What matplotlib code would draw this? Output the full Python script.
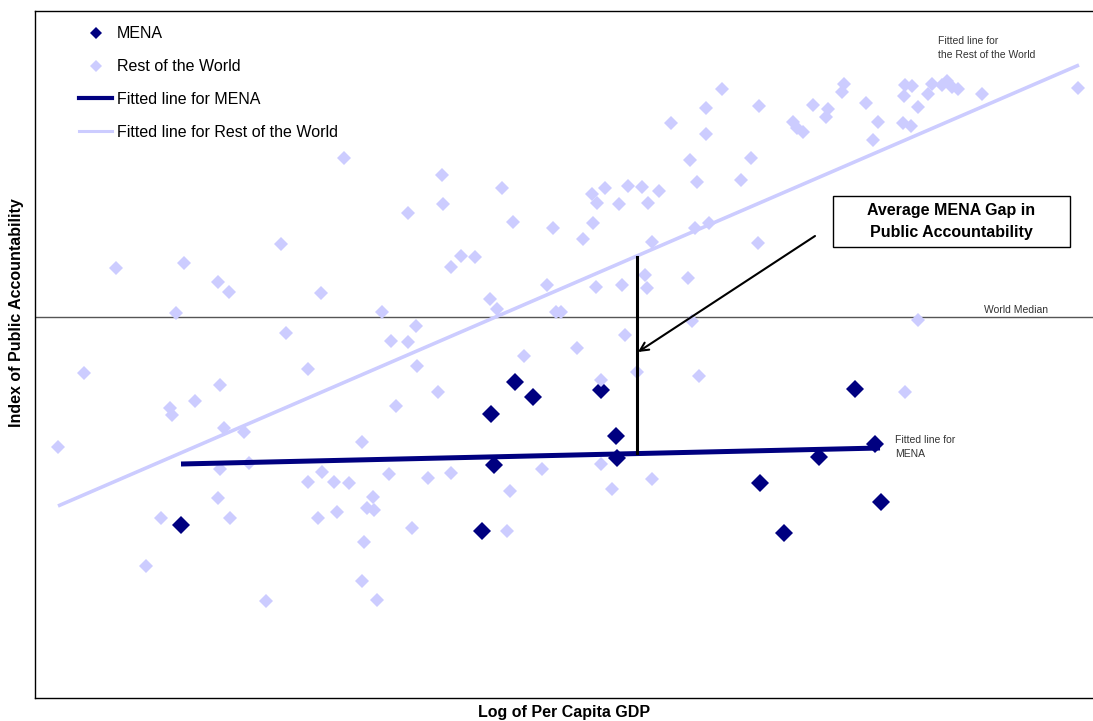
import matplotlib
matplotlib.use("Agg")
import matplotlib.pyplot as plt
from matplotlib.lines import Line2D
from matplotlib.patches import Rectangle

plt.rcParams['font.family'] = ['Liberation Sans', 'DejaVu Sans']

# ---- data (x: log per capita GDP, arbitrary units; y: index, world median = 0) ----
mena_x = [146, 456, 480, 498, 566, 581, 582, 459, 447, 725, 749, 784, 820, 840, 846]
mena_y = [-208, -97, -65, -80, -73, -119, -141, -148, -214, -166, -216, -140, -72, -127, -185]

row_x = [23, 49, 81, 111, 126, 135, 137, 141, 149, 160, 183, 185, 185, 183, 189, 194, 195,
         209, 214, 231, 246, 251, 273, 273, 283, 286, 287, 299, 302, 309, 314, 327, 327,
         329, 332, 338, 339, 342, 347, 356, 361, 373, 373, 377, 381, 382, 354, 393, 403,
         407, 408, 416, 416, 426, 440, 455, 462, 467, 472, 475, 478, 489, 507, 512, 518,
         521, 526, 542, 548, 557, 558, 561, 562, 566, 566, 570, 577, 584, 587, 590, 593,
         602, 607, 610, 612, 613, 617, 617, 624, 636, 653, 655, 657, 660, 662, 664, 671,
         671, 674, 687, 706, 716, 723, 724, 758, 762, 768, 778, 791, 793, 807, 809, 831,
         838, 843, 868, 869, 870, 870, 876, 877, 883, 883, 893, 897, 907, 912, 917, 923,
         947, 1043]
row_y = [-130, -56, 49, -249, -201, -91, -98, 4, 54, -84, 35, -68, -152, -181, -111, 25, -201,
         -115, -146, -284, 73, -16, -52, -165, -201, 24, -155, -165, -195, 159, -166, -125, -264,
         -225, -191, -180, -193, -283, 5, -24, -89, 104, -25, -211, -9, -49, -157, -161, -75,
         142, 113, 50, -156, 61, 60, 18, 8, 129, -214, -174, 95, -39, -152, 32, 89,
         5, 5, -31, 78, 123, 94, 30, 114, -63, -147, 129, -172, 113, 32, -18, 131,
         -55, 130, 42, 29, 114, 75, -162, 126, 194, 39, 157, -4, 89, 135, -59, 209,
         183, 94, 228, 137, 159, 74, 211, 195, 189, 185, 212, 200, 208, 225, 233, 214,
         177, 195, 194, 221, 232, -75, 191, 231, 210, -3, 223, 233, 232, 236, 230, 228,
         223, 229]

mena_fit_x = [146, 845]
mena_fit_y = [-147, -131]
row_fit_x = [23, 1044]
row_fit_y = [-189, 252]

gap_x = 602
gap_y = [-136, 60]
world_median = 0

NAVY = '#000080'
LAV = '#CCCCFF'

fig = plt.figure(figsize=(10.93, 7.21), dpi=100)
ax = fig.add_axes([35/1093, 23/721, 1058/1093, 687/721])
ax.set_xlim(0, 1058)
ax.set_ylim(-381, 306)
ax.set_xticks([])
ax.set_yticks([])
for s in ['top', 'left', 'bottom']:
    ax.spines[s].set_color('black')
    ax.spines[s].set_linewidth(1.0)
ax.spines['right'].set_visible(False)

ax.axhline(world_median, color='#555555', lw=1.0, zorder=1)

ax.plot(mena_x, mena_y, ls='none', marker='D', ms=9.5, mew=0, color=NAVY, zorder=2)
ax.plot(row_x, row_y, ls='none', marker='D', ms=7.5, mew=0, color=LAV, zorder=3)
ax.plot(row_fit_x, row_fit_y, color=LAV, lw=2.6, zorder=3, solid_capstyle='butt')
ax.plot(mena_fit_x, mena_fit_y, color=NAVY, lw=3.6, zorder=4, solid_capstyle='butt')

ax.plot([gap_x, gap_x], gap_y, color='black', lw=2.2, zorder=5)
ax.annotate('', xy=(603, -35), xytext=(780, 81),
            arrowprops=dict(arrowstyle='->,head_length=0.6,head_width=0.3', lw=1.5,
                            color='black', shrinkA=0, shrinkB=0), zorder=6)

ax.add_patch(Rectangle((798, 70), 237, 51, fc='white', ec='black', lw=1.0, zorder=6))
ax.text(916.5, 95.5, 'Average MENA Gap in\nPublic Accountability', ha='center', va='center',
        fontsize=11.5, fontweight='bold', linespacing=1.52, zorder=7)

ax.text(949, 2, 'World Median', fontsize=7.5, color='#333333', ha='left', va='bottom')
ax.text(903, 269, 'Fitted line for\nthe Rest of the World', fontsize=7.5, color='#333333',
        ha='left', va='center', linespacing=1.6)
ax.text(860, -130, 'Fitted line for\nMENA', fontsize=7.5, color='#333333',
        ha='left', va='center', linespacing=1.6)

handles = [
    Line2D([], [], ls='none', marker='D', color=NAVY, ms=6, mew=0),
    Line2D([], [], ls='none', marker='D', color=LAV, ms=6, mew=0),
    Line2D([], [], color=NAVY, lw=3.0),
    Line2D([], [], color=LAV, lw=2.2),
]
labels = ['MENA', 'Rest of the World', 'Fitted line for MENA', 'Fitted line for Rest of the World']
fig.legend(handles, labels, loc='upper left', bbox_to_anchor=(79/1093, 1 - 26.5/721),
           frameon=False, fontsize=11.5, handlelength=2.07, handletextpad=0.31,
           labelspacing=1.11, borderpad=0, borderaxespad=0)

fig.text(564/1093, 1 - 712/721, 'Log of Per Capita GDP', ha='center', va='center',
         fontsize=11.5, fontweight='bold')
fig.text(17/1093, 1 - 313/721, 'Index of Public Accountability', ha='center', va='center',
         rotation=90, fontsize=11.5, fontweight='bold')

fig.savefig('out.png', dpi=100)
